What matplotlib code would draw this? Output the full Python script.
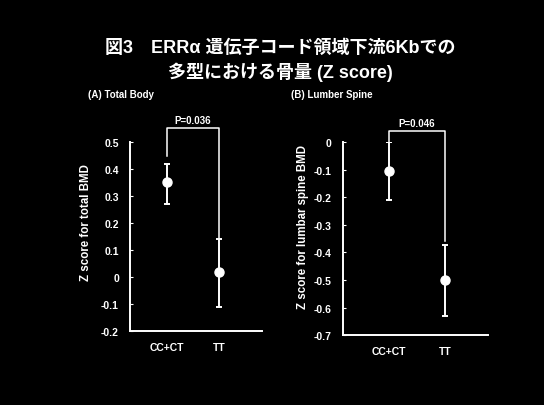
import numpy as np
import matplotlib
matplotlib.use("Agg")
import matplotlib.pyplot as plt

plt.rcParams['font.family'] = ['Liberation Sans', 'Noto Sans CJK JP', 'DejaVu Sans']

# data
groups = ['CC+CT', 'TT']

total_mean = [0.35, 0.02]
total_low = [0.27, -0.11]
total_high = [0.42, 0.14]
total_ticks = [0.5, 0.4, 0.3, 0.2, 0.1, 0, -0.1, -0.2]
total_labels = ['0.5', '0.4', '0.3', '0.2', '0.1', '0', '-0.1', '-0.2']

spine_mean = [-0.105, -0.50]
spine_low = [-0.21, -0.63]
spine_high = [0.0, -0.375]
spine_ticks = [0, -0.1, -0.2, -0.3, -0.4, -0.5, -0.6, -0.7]
spine_labels = ['0', '-0.1', '-0.2', '-0.3', '-0.4', '-0.5', '-0.6', '-0.7']

fig = plt.figure(figsize=(5.44, 4.06), dpi=100, facecolor='black')

fig.text(0.515, 0.882, '図3　ERRα 遺伝子コード領域下流6Kbでの', color='white',
         fontsize=13, fontweight='bold', ha='center', va='center')
fig.text(0.515, 0.823, '多型における骨量 (Z score)', color='white',
         fontsize=13, fontweight='bold', ha='center', va='center')
fig.text(0.162, 0.766, '(A) Total Body', color='white', fontsize=7,
         fontweight='bold', va='center')
fig.text(0.535, 0.766, '(B) Lumber Spine', color='white', fontsize=7,
         fontweight='bold', va='center')


def panel(rect, mean, low, high, ticks, labels, ylim, xlim, ylabel, labpos,
          bracket, ptext):
    ax = fig.add_axes(rect, facecolor='black')
    x = np.arange(len(groups))
    mean = np.array(mean)
    err = [mean - np.array(low), np.array(high) - mean]
    ax.errorbar(x, mean, yerr=err, fmt='o', color='white', ms=6.5, elinewidth=1.4,
                capsize=2.5, capthick=1.4)
    ax.set_xlim(*xlim)
    ax.set_ylim(*ylim)
    ax.set_xticks(x)
    ax.set_xticklabels(groups, color='white', fontsize=7.5, fontweight='bold')
    ax.set_yticks(ticks)
    ax.set_yticklabels(labels, color='white', fontsize=7.5, fontweight='bold')
    ax.tick_params(axis='x', length=0, pad=8)
    ax.tick_params(axis='y', direction='in', length=2, width=0.8, color='white',
                   pad=8)
    ax.set_ylabel(ylabel, color='white', fontsize=8.3, fontweight='bold')
    ax.yaxis.set_label_coords(*labpos)
    for s in ['top', 'right']:
        ax.spines[s].set_visible(False)
    for s in ['left', 'bottom']:
        ax.spines[s].set_color('white')
        ax.spines[s].set_linewidth(1.4)
    # significance bracket
    top, left_end, right_end = bracket
    ax.plot([0, 0, 1, 1], [left_end, top, top, right_end], color='white', lw=1.1,
            clip_on=False)
    ax.text(0.5, top + 0.012, ptext, color='white', fontsize=7, fontweight='bold',
            ha='center', va='bottom')
    return ax


panel([0.239, 0.182, 0.243, 0.466], total_mean, total_low, total_high,
      total_ticks, total_labels, (-0.2, 0.5), (-0.71, 1.83),
      'Z score for total BMD', (-0.29, 0.58), (0.552, 0.448, 0.14), 'P=0.036')

panel([0.630, 0.172, 0.267, 0.476], spine_mean, spine_low, spine_high,
      spine_ticks, spine_labels, (-0.7, 0.0), (-0.81, 1.75),
      'Z score for lumbar spine BMD', (-0.234, 0.565), (0.04, 0.0, -0.36),
      'P=0.046')

fig.savefig('out.png', dpi=100, facecolor='black')
